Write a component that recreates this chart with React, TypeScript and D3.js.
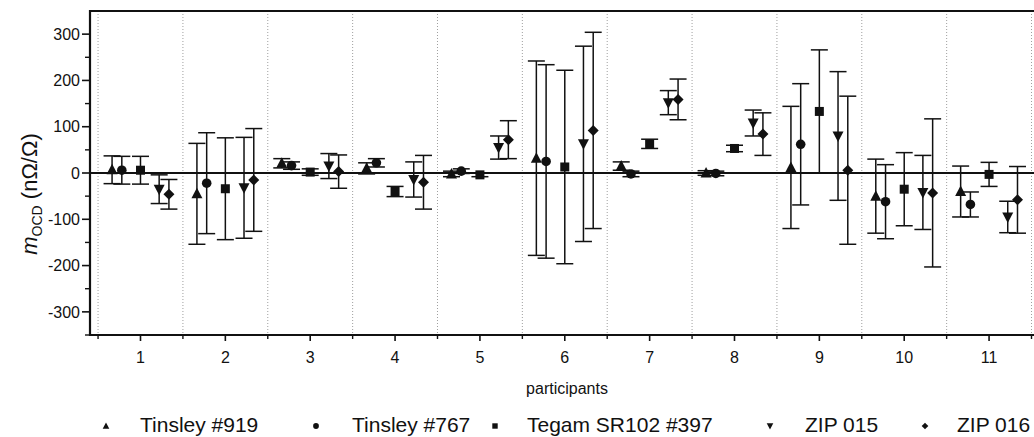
import React from "react";
import * as d3 from "d3";

const participants = [1, 2, 3, 4, 5, 6, 7, 8, 9, 10, 11];
const seriesNames = ["Tinsley #919", "Tinsley #767", "Tegam SR102 #397", "ZIP 015", "ZIP 016"];

const tinsley919 = [7, -45, 21, 10, -2, 32, 15, 0, 12, -50, -40];
const tinsley919Err = [30, 109, 10, 12, 6, 210, 9, 5, 132, 80, 55];
const tinsley767 = [6, -22, 16, 22, 4, 25, -2, -1, 62, -62, -68];
const tinsley767Err = [30, 109, 8, 9, 5, 209, 6, 5, 131, 80, 27];
const tegam397 = [6, -34, 2, -40, -4, 13, 63, 53, 133, -35, -3];
const tegam397Err = [30, 110, 7, 11, 4, 209, 10, 7, 133, 79, 26];
const zip015 = [-35, -32, 15, -14, 55, 63, 152, 108, 80, -42, -95];
const zip015Err = [31, 109, 27, 38, 25, 211, 26, 28, 139, 80, 34];
const zip016 = [-46, -15, 3, -20, 72, 92, 159, 84, 6, -43, -58];
const zip016Err = [32, 111, 36, 58, 41, 212, 44, 46, 160, 160, 72];

const seriesOffsets = [-0.335, -0.22, 0, 0.22, 0.335];
const seriesShapes = ["up", "circle", "square", "down", "diamond"];

const yMajorTicks = [-300, -200, -100, 0, 100, 200, 300];
const yMinorTicks = [-350, -250, -150, -50, 50, 150, 250];
const xMinorTicks = [0.5, 1.5, 2.5, 3.5, 4.5, 5.5, 6.5, 7.5, 8.5, 9.5, 10.5, 11.5];

const W = 1034;
const H = 437;
const left = 90;
const right = 1031.5;
const top = 11;
const bottom = 335;

const FONT = "'Liberation Sans', Arial, Helvetica, sans-serif";
const INK = "#111";

function markerPath(shape: string, s: number): string {
  switch (shape) {
    case "up":
      return `M0,${-s * 0.6}L${s * 0.55},${s * 0.45}L${-s * 0.55},${s * 0.45}Z`;
    case "down":
      return `M0,${s * 0.6}L${s * 0.55},${-s * 0.45}L${-s * 0.55},${-s * 0.45}Z`;
    case "square":
      return `M${-s * 0.45},${-s * 0.45}H${s * 0.45}V${s * 0.45}H${-s * 0.45}Z`;
    case "diamond":
      return `M0,${-s * 0.55}L${s * 0.55},0L0,${s * 0.55}L${-s * 0.55},0Z`;
    default: {
      const r = s * 0.48;
      return `M${r},0A${r},${r} 0 1,1 ${-r},0A${r},${r} 0 1,1 ${r},0Z`;
    }
  }
}

export default function App() {
  const x = d3.scaleLinear().domain([0.405, 11.5]).range([left, right]);
  const y = d3.scaleLinear().domain([-350, 350]).range([bottom, top]);

  const values = [tinsley919, tinsley767, tegam397, zip015, zip016];
  const errs = [tinsley919Err, tinsley767Err, tegam397Err, zip015Err, zip016Err];

  const cap = 8.5;

  const legendItems = [
    { sym: 106, text: 140 },
    { sym: 316, text: 352 },
    { sym: 495, text: 527 },
    { sym: 770, text: 805 },
    { sym: 925, text: 957 },
  ];

  return (
    <svg
      width={W}
      height={H}
      style={{ position: "absolute", left: 0, top: 0, background: "#fff" }}
      fontFamily={FONT}
    >
      <rect x={0} y={0} width={W} height={H} fill="#fff" />
      {/* dotted separators */}
      {xMinorTicks.map((t) => (
        <line
          key={"sep" + t}
          x1={x(t)}
          x2={x(t)}
          y1={top}
          y2={bottom}
          stroke="#888"
          strokeWidth={1}
          strokeDasharray="1,2"
          opacity={0.8}
        />
      ))}
      {/* frame */}
      <line x1={left} x2={W} y1={top} y2={top} stroke={INK} strokeWidth={2.2} />
      <line x1={left} x2={W} y1={bottom} y2={bottom} stroke={INK} strokeWidth={2.2} />
      <line x1={left} x2={left} y1={top - 1} y2={bottom + 1} stroke={INK} strokeWidth={2.2} />
      {/* zero line */}
      <line x1={left} x2={W} y1={y(0)} y2={y(0)} stroke={INK} strokeWidth={2.2} />

      {/* y ticks */}
      {yMajorTicks.map((t) => (
        <g key={"ym" + t}>
          <line x1={left - 8} x2={left} y1={y(t)} y2={y(t)} stroke={INK} strokeWidth={1.6} />
          <text
            x={left - 10}
            y={y(t)}
            dy="0.36em"
            textAnchor="end"
            fontSize={16}
            fill={INK}
          >
            {t}
          </text>
        </g>
      ))}
      {yMinorTicks.map((t) => (
        <line key={"yn" + t} x1={left - 5} x2={left} y1={y(t)} y2={y(t)} stroke={INK} strokeWidth={1.4} />
      ))}

      {/* x ticks */}
      {participants.map((p) => (
        <g key={"xm" + p}>
          <line x1={x(p)} x2={x(p)} y1={bottom} y2={bottom + 6} stroke={INK} strokeWidth={1.6} />
          <text x={x(p)} y={363} textAnchor="middle" fontSize={16} fill={INK}>
            {p}
          </text>
        </g>
      ))}
      {xMinorTicks.map((t) => (
        <line key={"xn" + t} x1={x(t)} x2={x(t)} y1={bottom} y2={bottom + 4} stroke={INK} strokeWidth={1.4} />
      ))}

      {/* axis titles */}
      <text x={567} y={394} textAnchor="middle" fontSize={16} fill={INK}>
        participants
      </text>
      <text
        transform={`translate(37,194) rotate(-90)`}
        textAnchor="middle"
        fontSize={22}
        fill={INK}
      >
        <tspan fontStyle="italic">m</tspan>
        <tspan fontSize={14} dy={5}>OCD</tspan>
        <tspan dy={-5}> (nΩ/Ω)</tspan>
      </text>

      {/* error bars */}
      {values.map((vals, si) =>
        vals.map((v, i) => {
          const cx = x(participants[i] + seriesOffsets[si]);
          const e = errs[si][i];
          const yt = y(v + e);
          const yb = y(v - e);
          return (
            <g key={`eb${si}-${i}`} stroke={INK} strokeWidth={1.5}>
              <line x1={cx} x2={cx} y1={yt} y2={yb} />
              <line x1={cx - cap} x2={cx + cap} y1={yt} y2={yt} />
              <line x1={cx - cap} x2={cx + cap} y1={yb} y2={yb} />
            </g>
          );
        })
      )}
      {/* markers */}
      {values.map((vals, si) =>
        vals.map((v, i) => {
          const cx = x(participants[i] + seriesOffsets[si]);
          return (
            <path
              key={`mk${si}-${i}`}
              d={markerPath(seriesShapes[si], 10)}
              transform={`translate(${cx},${y(v)})`}
              fill={INK}
            />
          );
        })
      )}

      {/* legend */}
      {seriesNames.map((name, si) => (
        <g key={"lg" + si}>
          <path
            d={markerPath(seriesShapes[si], 6)}
            transform={`translate(${legendItems[si].sym},426)`}
            fill={INK}
          />
          <text x={legendItems[si].text} y={432} fontSize={21} fill={INK}>
            {name}
          </text>
        </g>
      ))}
    </svg>
  );
}
